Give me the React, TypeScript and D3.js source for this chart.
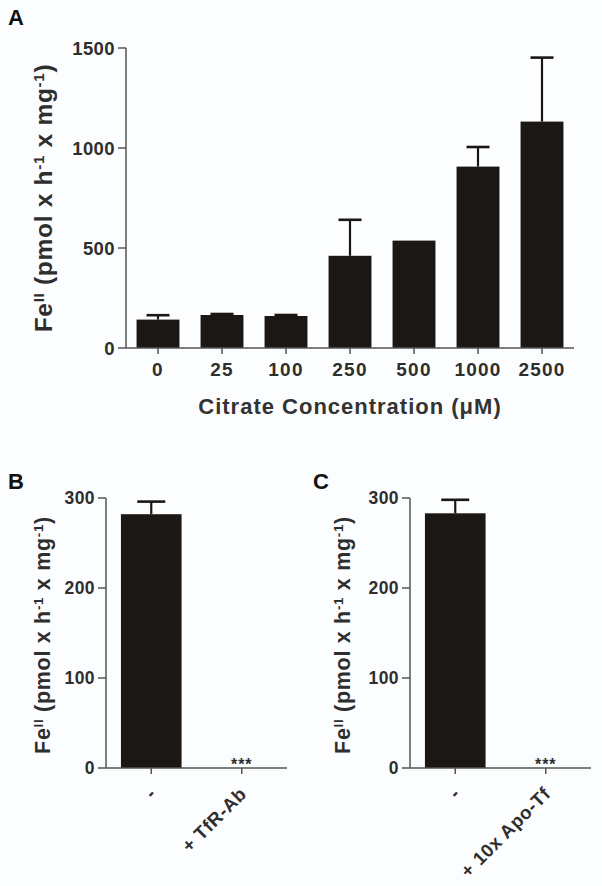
import React from "react";
import * as d3 from "d3";

// Panel A data
const citrateCategories = ["0", "25", "100", "250", "500", "1000", "2500"];
const citrateValues = [142, 165, 160, 461, 537, 907, 1132];
const citrateErrors = [22, 5, 5, 180, 0, 98, 320];
const citrateTicks = [0, 500, 1000, 1500];

// Panel B data
const tfrCategories = ["-", "+ TfR-Ab"];
const tfrValues = [282, 0];
const tfrErrors = [14, 0];
const tfrSignif = ["", "***"];

// Panel C data
const apoCategories = ["-", "+ 10x Apo-Tf"];
const apoValues = [283, 0];
const apoErrors = [15, 0];
const apoSignif = ["", "***"];

const smallTicks = [0, 100, 200, 300];

const FONT = "'Liberation Sans', Arial, Helvetica, sans-serif";
const TEXT = "#2e2e2e";
const AXIS = "#555";
const BAR = "#1b1715";

type PanelProps = {
  cats: string[];
  vals: number[];
  errs: number[];
  sig?: string[];
  ymax: number;
  ticks: number[];
  x0: number;
  x1: number;
  y0: number;
  y1: number;
  yTickFont: number;
  xTickFont: number;
  xTickSpacing: number;
  rotateLabels: boolean;
  capW: number;
  titleX: number;
  titleY: number;
  titleFont: number;
};

function YTitle({ x, y, size }: { x: number; y: number; size: number }) {
  const sup = { baselineShift: "super", fontSize: size * 0.62 } as any;
  return (
    <text
      transform={`translate(${x},${y}) rotate(-90)`}
      textAnchor="middle"
      fontFamily={FONT}
      fontWeight="bold"
      fontSize={size}
      fill={TEXT}
      letterSpacing={0.7}
    >
      Fe<tspan style={sup}>II</tspan>
      <tspan> (pmol x h</tspan>
      <tspan style={sup}>-1</tspan>
      <tspan> x mg</tspan>
      <tspan style={sup}>-1</tspan>
      <tspan>)</tspan>
    </text>
  );
}

function Panel(p: PanelProps) {
  const x = d3.scaleBand<string>().domain(p.cats).range([p.x0, p.x1]).paddingInner(0.33).paddingOuter(0.165);
  const y = d3.scaleLinear().domain([0, p.ymax]).range([p.y1, p.y0]);
  const bw = x.bandwidth();
  return (
    <g>
      {p.cats.map((c, i) => {
        const bx = x(c)!;
        const cx = bx + bw / 2;
        const top = y(p.vals[i]);
        const et = y(p.vals[i] + p.errs[i]);
        return (
          <g key={c}>
            {p.vals[i] > 0 && (
              <rect x={bx} y={top} width={bw} height={p.y1 - top} fill={BAR} />
            )}
            {p.errs[i] > 0 && (
              <g stroke={BAR} strokeWidth={2.2}>
                <line x1={cx} x2={cx} y1={top} y2={et} />
                <line x1={cx - p.capW / 2} x2={cx + p.capW / 2} y1={et} y2={et} strokeWidth={2.6} />
              </g>
            )}
            {p.sig && p.sig[i] && (
              <text x={cx} y={p.y1 + 2} textAnchor="middle" fontFamily={FONT} fontWeight="bold" fontSize={16} fill={TEXT} letterSpacing={1}>
                {p.sig[i]}
              </text>
            )}
            <line x1={cx} x2={cx} y1={p.y1} y2={p.y1 + 6} stroke={AXIS} strokeWidth={1.5} />
            {p.rotateLabels ? (
              <text
                transform={`translate(${cx + 6},${p.y1 + 27}) rotate(-45)`}
                textAnchor="end"
                fontFamily={FONT}
                fontWeight="bold"
                fontSize={p.xTickFont}
                letterSpacing={p.xTickSpacing}
                fill={TEXT}
              >
                {c}
              </text>
            ) : (
              <text
                x={cx}
                y={p.y1 + 28}
                textAnchor="middle"
                fontFamily={FONT}
                fontWeight="bold"
                fontSize={p.xTickFont}
                letterSpacing={p.xTickSpacing}
                fill={TEXT}
              >
                {c}
              </text>
            )}
          </g>
        );
      })}
      {p.ticks.map((t) => (
        <g key={t}>
          <line x1={p.x0 - 8} x2={p.x0} y1={y(t)} y2={y(t)} stroke={AXIS} strokeWidth={1.5} />
          <text
            x={p.x0 - 11}
            y={y(t)}
            dy="0.36em"
            textAnchor="end"
            fontFamily={FONT}
            fontWeight="bold"
            fontSize={p.yTickFont}
            letterSpacing={0.4}
            fill={TEXT}
          >
            {t}
          </text>
        </g>
      ))}
      <line x1={p.x0} x2={p.x0} y1={y(p.ymax)} y2={p.y1} stroke={AXIS} strokeWidth={1.5} />
      <line x1={p.x0} x2={p.x1} y1={p.y1} y2={p.y1} stroke={AXIS} strokeWidth={1.5} />
      <YTitle x={p.titleX} y={p.titleY} size={p.titleFont} />
    </g>
  );
}

export default function App() {
  return (
    <svg
      width={602}
      height={886}
      style={{ position: "absolute", left: 0, top: 0, background: "#fcfdfe" }}
    >
      <text x={8} y={25} fontFamily={FONT} fontWeight="bold" fontSize={22} fill="#111">A</text>
      <text x={8} y={489} fontFamily={FONT} fontWeight="bold" fontSize={22} fill="#111">B</text>
      <text x={313} y={489} fontFamily={FONT} fontWeight="bold" fontSize={22} fill="#111">C</text>
      <Panel
        cats={citrateCategories}
        vals={citrateValues}
        errs={citrateErrors}
        ymax={1500}
        ticks={citrateTicks}
        x0={126}
        x1={574}
        y0={48}
        y1={348}
        yTickFont={18.5}
        xTickFont={19}
        xTickSpacing={1.2}
        rotateLabels={false}
        capW={23}
        titleX={52}
        titleY={198}
        titleFont={24.5}
      />
      <text
        x={350}
        y={414}
        textAnchor="middle"
        fontFamily={FONT}
        fontWeight="bold"
        fontSize={22}
        letterSpacing={1}
        fill="#333"
      >
        Citrate Concentration (μM)
      </text>
      <Panel
        cats={tfrCategories}
        vals={tfrValues}
        errs={tfrErrors}
        sig={tfrSignif}
        ymax={300}
        ticks={smallTicks}
        x0={106}
        x1={287}
        y0={498}
        y1={768}
        yTickFont={17.5}
        xTickFont={18.5}
        xTickSpacing={0.6}
        rotateLabels={true}
        capW={28}
        titleX={50}
        titleY={635}
        titleFont={21.5}
      />
      <Panel
        cats={apoCategories}
        vals={apoValues}
        errs={apoErrors}
        sig={apoSignif}
        ymax={300}
        ticks={smallTicks}
        x0={410}
        x1={591}
        y0={498}
        y1={768}
        yTickFont={17.5}
        xTickFont={18.5}
        xTickSpacing={0.6}
        rotateLabels={true}
        capW={28}
        titleX={350}
        titleY={635}
        titleFont={21.5}
      />
    </svg>
  );
}
